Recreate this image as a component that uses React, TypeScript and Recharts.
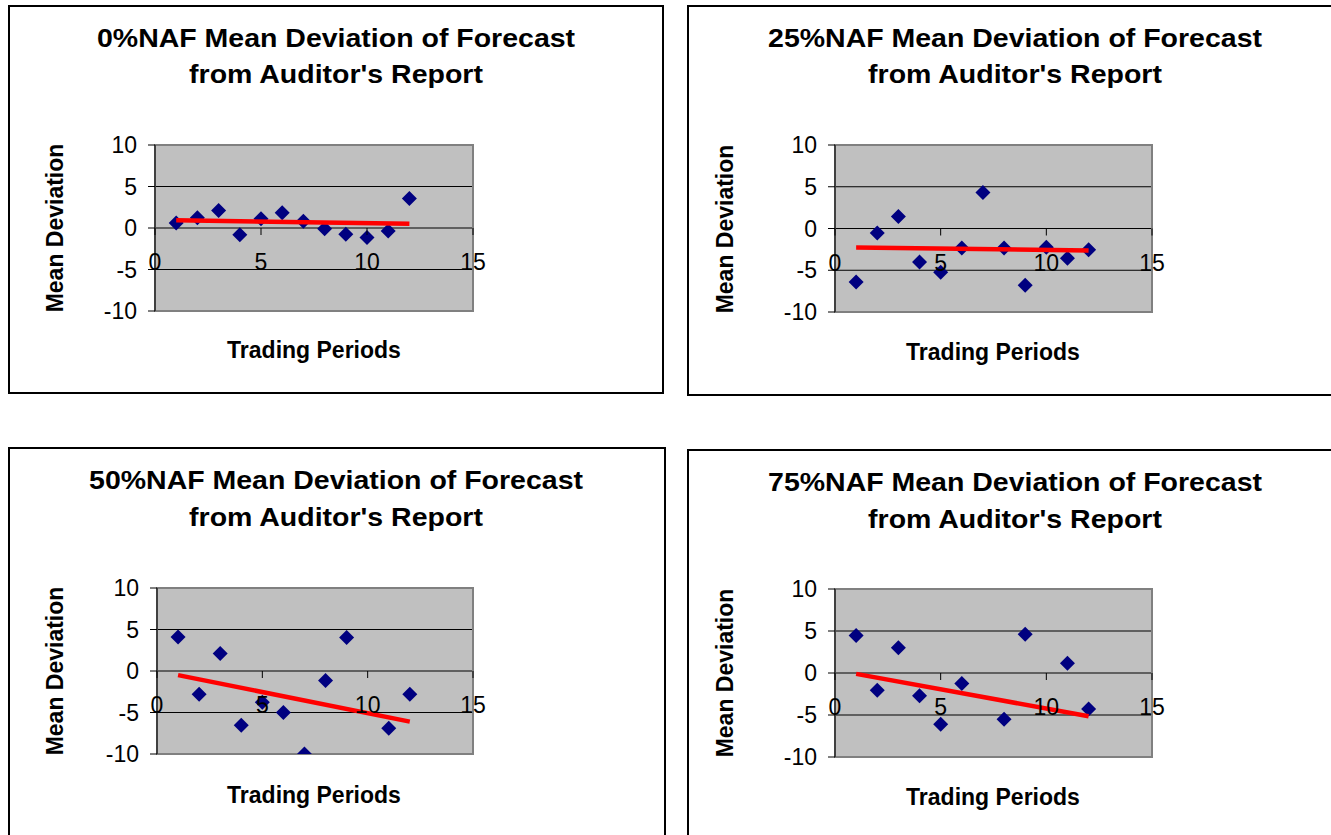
import React from "react";
import {
  ScatterChart,
  Scatter,
  XAxis,
  YAxis,
  CartesianGrid,
  ReferenceArea,
} from "recharts";

// Four Excel-style scatter panels: mean deviation of forecast per trading
// period, with a linear trend line drawn in red.

const FONT = '"Liberation Sans", Arial, sans-serif';

const xTicks = [0, 5, 10, 15];
const yTicks = [-10, -5, 0, 5, 10];

const titles = ["0%NAF", "25%NAF", "50%NAF", "75%NAF"];

const periods0 = [1, 2, 3, 4, 5, 6, 7, 8, 9, 10, 11, 12];
const dev0 = [0.6, 1.25, 2.1, -0.8, 1.1, 1.85, 0.8, -0.1, -0.75, -1.15, -0.35, 3.55];

const periods25 = [1, 2, 3, 4, 5, 6, 7, 8, 9, 10, 11, 12];
const dev25 = [-6.4, -0.55, 1.45, -4.0, -5.25, -2.35, 4.3, -2.35, -6.8, -2.25, -3.55, -2.55];

const periods50 = [1, 2, 3, 4, 5, 6, 7, 8, 9, 11, 12];
const dev50 = [4.1, -2.8, 2.1, -6.55, -3.75, -5.0, -10.0, -1.15, 4.05, -6.9, -2.8];

const periods75 = [1, 2, 3, 4, 5, 6, 8, 9, 11, 12];
const dev75 = [4.45, -2.05, 3.0, -2.7, -6.1, -1.25, -5.5, 4.6, 1.15, -4.3];

// trend line end points (Excel linear trendline)
const trendPeriods = [1, 12];
const trend0 = [0.92, 0.52];
const trend25 = [-2.27, -2.63];
const trend50 = [-0.5, -6.1];
const trend75 = [-0.1, -5.15];

const toPoints = (xs: number[], ys: number[]) =>
  xs.map((x, i) => ({ x, y: ys[i] }));

// page-pixel layout of each panel
const layouts = [
  {
    box: { l: 8, t: 5, w: 656, h: 389 },
    plot: { l: 155, t: 145, r: 473, b: 311 },
    titleBase: [41.7, 78.3],
    yTitle: { x: 55, y: 223 },
    xTitle: { x: 306, y: 353 },
  },
  {
    box: { l: 687, t: 5, w: 656, h: 391 },
    plot: { l: 835, t: 145, r: 1152, b: 312 },
    titleBase: [41.7, 78.3],
    yTitle: { x: 46, y: 224 },
    xTitle: { x: 306, y: 355 },
  },
  {
    box: { l: 8, t: 447, w: 658, h: 400 },
    plot: { l: 157, t: 588, r: 473, b: 754 },
    titleBase: [42, 79],
    yTitle: { x: 55, y: 224 },
    xTitle: { x: 306, y: 356 },
  },
  {
    box: { l: 687, t: 449, w: 656, h: 400 },
    plot: { l: 835, t: 589, r: 1152, b: 757 },
    titleBase: [42, 79],
    yTitle: { x: 46, y: 224 },
    xTitle: { x: 306, y: 356 },
  },
];

const seriesList = [
  { points: toPoints(periods0, dev0), trend: toPoints(trendPeriods, trend0) },
  { points: toPoints(periods25, dev25), trend: toPoints(trendPeriods, trend25) },
  { points: toPoints(periods50, dev50), trend: toPoints(trendPeriods, trend50) },
  { points: toPoints(periods75, dev75), trend: toPoints(trendPeriods, trend75) },
];

// Excel's diamond marker
function Diamond(props: any) {
  const { cx, cy } = props;
  if (cx == null || cy == null) return null;
  const r = 7.5;
  return (
    <polygon
      points={`${cx},${cy - r} ${cx + r},${cy} ${cx},${cy + r} ${cx - r},${cy}`}
      fill="#000080"
    />
  );
}

// x axis crosses at y = 0, so ticks/labels are lifted from the plot bottom
function XTick(props: any) {
  const { x, y, payload, zeroOffset } = props;
  const zy = y - zeroOffset;
  return (
    <g>
      <line x1={x} x2={x} y1={zy} y2={zy + 7} stroke="#000" />
      <text
        x={x}
        y={zy + 42}
        textAnchor="middle"
        fontSize={23}
        fontFamily={FONT}
        fill="#000"
      >
        {payload.value}
      </text>
    </g>
  );
}

function Panel({ idx }: { idx: number }) {
  const { box, plot, titleBase, yTitle, xTitle } = layouts[idx];
  const { points, trend } = seriesList[idx];
  const yAxisWidth = 60;
  const xAxisHeight = 30;
  const plotH = plot.b - plot.t;
  const zeroOffset = (plotH * (0 - yTicks[0])) / (yTicks[yTicks.length - 1] - yTicks[0]);
  const margin = {
    top: plot.t - box.t,
    left: plot.l - box.l - yAxisWidth,
    right: box.l + box.w - plot.r,
    bottom: box.t + box.h - plot.b - xAxisHeight,
  };

  return (
    <div
      style={{
        position: "absolute",
        left: box.l,
        top: box.t,
        width: box.w,
        height: box.h,
      }}
    >
      <div
        style={{
          position: "absolute",
          inset: 0,
          border: "2px solid #000",
          boxSizing: "border-box",
        }}
      />
      <div style={{ position: "absolute", left: 0, top: 0 }}>
        <ScatterChart width={box.w} height={box.h} margin={margin}>
          <CartesianGrid
            vertical={false}
            horizontalValues={[-5, 0, 5]}
            stroke="#000"
            fill="#C0C0C0"
            fillOpacity={1}
          />
          <ReferenceArea
            x1={0}
            x2={15}
            y1={-10}
            y2={10}
            fill="none"
            stroke="#808080"
            strokeWidth={2}
          />
          <XAxis
            dataKey="x"
            type="number"
            domain={[0, 15]}
            ticks={xTicks}
            interval={0}
            height={xAxisHeight}
            tickSize={0}
            tickMargin={0}
            axisLine={false}
            tickLine={false}
            tick={(p: any) => <XTick {...p} zeroOffset={zeroOffset} />}
          />
          <YAxis
            dataKey="y"
            type="number"
            domain={[-10, 10]}
            ticks={yTicks}
            interval={0}
            width={yAxisWidth}
            tickSize={7}
            tickMargin={11}
            axisLine={{ stroke: "#000" }}
            tickLine={{ stroke: "#000" }}
            tick={{ fontSize: 23, fill: "#000", fontFamily: FONT }}
            allowDataOverflow
          />
          <Scatter
            data={points}
            shape={(p: any) => <Diamond {...p} />}
            isAnimationActive={false}
          />
          <Scatter
            data={trend}
            line={{ stroke: "#FF0000", strokeWidth: 4.5 }}
            shape={() => <g />}
            isAnimationActive={false}
          />
        </ScatterChart>
      </div>
      <svg
        width={box.w}
        height={box.h}
        style={{ position: "absolute", left: 0, top: 0, pointerEvents: "none" }}
        fontFamily={FONT}
        fontWeight="bold"
        fill="#000"
      >
        <text
          transform={`translate(${box.w / 2 - (idx === 2 ? 1 : 0)},${titleBase[0]}) scale(1.14,1)`}
          textAnchor="middle"
          fontSize={25}
        >
          {titles[idx]} Mean Deviation of Forecast
        </text>
        <text
          transform={`translate(${box.w / 2 - (idx === 2 ? 1 : 0)},${titleBase[1]}) scale(1.14,1)`}
          textAnchor="middle"
          fontSize={25}
        >
          from Auditor's Report
        </text>
        <text
          transform={`translate(${yTitle.x},${yTitle.y}) rotate(-90)`}
          textAnchor="middle"
          fontSize={23}
        >
          Mean Deviation
        </text>
        <text x={xTitle.x} y={xTitle.y} textAnchor="middle" fontSize={23}>
          Trading Periods
        </text>
      </svg>
    </div>
  );
}

export default function App() {
  return (
    <div
      style={{
        position: "absolute",
        left: 0,
        top: 0,
        width: 1331,
        height: 835,
        overflow: "hidden",
        background: "#fff",
      }}
    >
      {layouts.map((_, i) => (
        <Panel key={i} idx={i} />
      ))}
    </div>
  );
}
